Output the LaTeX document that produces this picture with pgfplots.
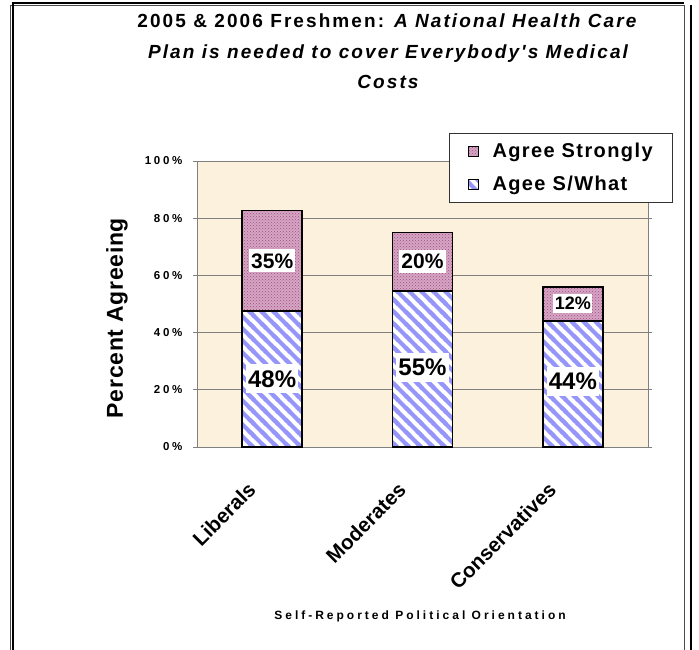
\documentclass[border=0pt]{standalone}
\usepackage{fontspec}
\setmainfont{Liberation Sans}[Ligatures=TeXOff]
\newfontfamily\fTitle{Liberation Sans}[LetterSpace=11, Ligatures=TeXOff]
\newfontfamily\fTick{Liberation Sans}[LetterSpace=24]
\newfontfamily\fXlab{Liberation Sans}[LetterSpace=25]
\newfontfamily\fLeg{Liberation Sans}[LetterSpace=7]
\newfontfamily\fYlab{Liberation Sans}[LetterSpace=3]
\usepackage{pgfplots}
\pgfplotsset{compat=1.18}
\usetikzlibrary{patterns}
\pgfdeclarepatternformonly{widenwlines}{\pgfqpoint{-1pt}{-1pt}}{\pgfqpoint{13pt}{13pt}}{\pgfqpoint{12pt}{12pt}}{%
  \pgfsetlinewidth{4.2pt}%
  \pgfpathmoveto{\pgfqpoint{-1pt}{13pt}}\pgfpathlineto{\pgfqpoint{13pt}{-1pt}}%
  \pgfpathmoveto{\pgfqpoint{-3pt}{3pt}}\pgfpathlineto{\pgfqpoint{3pt}{-3pt}}%
  \pgfpathmoveto{\pgfqpoint{9pt}{15pt}}\pgfpathlineto{\pgfqpoint{15pt}{9pt}}%
  \pgfusepath{stroke}}
\definecolor{bgbeige}{RGB}{251,241,220}
\definecolor{stripeblue}{RGB}{150,150,250}
\definecolor{pinkbase}{RGB}{214,165,196}
\definecolor{pinkdot}{RGB}{160,80,130}
\definecolor{gridgray}{RGB}{128,128,128}
\begin{document}
\begin{tikzpicture}[x=1pt,y=1pt]
\useasboundingbox (0,0) rectangle (699,-650);
\fill[white] (0,0) rectangle (699,-650);
% frame
\draw[line width=1pt, black!70] (10,-6) rectangle (684,-700);
\draw[line width=2pt] (13,-700) -- (13,-3.5) -- (684,-3.5);
\draw[line width=2pt] (691,-5) -- (691,-700);
% title
\node[anchor=base, font=\fTitle\bfseries\fontsize{19}{21}\selectfont] at (388,-28) {2005 \& 2006 Freshmen: \textit{A National Health Care}};
\node[anchor=base, font=\fTitle\bfseries\itshape\fontsize{19}{21}\selectfont] at (388,-59) {Plan is needed to cover Everybody's Medical};
\node[anchor=base, font=\fTitle\bfseries\itshape\fontsize{19}{21}\selectfont] at (388,-89) {Costs};
% axis titles
\node[rotate=90, font=\fYlab\bfseries\fontsize{23}{25}\selectfont] at (117,-318) {Percent Agreeing};
\node[font=\fXlab\bfseries\fontsize{12}{14}\selectfont] at (420,-616) {Self-Reported Political Orientation};
\begin{axis}[
  at={(197pt,-447pt)}, anchor=south west,
  scale only axis, width=451pt, height=286pt,
  xmin=0, xmax=3, ymin=0, ymax=100,
  ybar stacked, bar width=60pt,
  axis background/.style={fill=bgbeige},
  axis line style={gridgray, line width=1pt},
  ymajorgrids, grid style={gridgray, line width=1pt},
  ytick={0,20,40,60,80,100},
  yticklabels={0\%,20\%,40\%,60\%,80\%,100\%},
  yticklabel style={font=\fTick\bfseries\fontsize{11.5}{12}\selectfont, xshift=-7pt},
  xtick={0.5,1.5,2.5},
  xticklabels={Liberals,Moderates,Conservatives},
  x tick style={draw=none},
  minor xtick={0,1,2,3},
  minor tick length=9pt,
  major tick length=4pt,
  tick align=outside,
  tick style={gridgray, line width=1pt},
  xticklabel style={font=\bfseries\fontsize{20.5}{22}\selectfont, anchor=east, xshift=-18pt, yshift=-33pt, rotate=45},
  legend style={at={(0.559,1.098)}, anchor=north west, draw=black!80, line width=0.8pt,
    font=\fLeg\bfseries\fontsize{20}{22}\selectfont, row sep=13pt, inner xsep=18pt, inner ysep=8pt,
    /tikz/every odd column/.append style={column sep=12pt}},
  legend cell align=left,
  reverse legend,
  legend image code/.code={\draw[#1, line width=1pt] (0pt,-5pt) rectangle (10pt,5pt);},
  clip=false,
]
\addplot[draw=black, line width=1.5pt, fill=white,
  postaction={pattern=widenwlines, pattern color=stripeblue}]
  coordinates {(0.5,47.6) (1.5,54.6) (2.5,44.1)};
\addlegendentry{Agee S/What}
\addplot[draw=black, line width=1.5pt, fill=pinkbase,
  postaction={pattern=crosshatch dots, pattern color=pinkdot}]
  coordinates {(0.5,35.1) (1.5,20.4) (2.5,11.9)};
\addlegendentry{Agree Strongly}
\end{axis}
\begin{axis}[
  at={(197pt,-447pt)}, anchor=south west,
  scale only axis, width=451pt, height=286pt,
  xmin=0, xmax=3, ymin=0, ymax=100,
  hide axis, clip=false,
  nodes near coords align={center},
]
\addplot[draw=none, mark=none, nodes near coords, point meta=explicit symbolic,
  every node near coord/.append style={anchor=center, fill=white, text=black, inner xsep=2pt, inner ysep=6pt,
    font=\bfseries\fontsize{24}{26}\selectfont}]
  coordinates {(0.5,23.8)[48\%] (1.5,27.8)[55\%] (2.5,23)[44\%]};
\addplot[draw=none, mark=none, nodes near coords, point meta=explicit symbolic,
  every node near coord/.append style={anchor=center, fill=white, text=black, inner xsep=2pt, inner ysep=4pt,
    font=\bfseries\fontsize{21}{23}\selectfont}]
  coordinates {(0.5,65.1)[35\%] (1.5,64.8)[20\%]};
\addplot[draw=none, mark=none, nodes near coords, point meta=explicit symbolic,
  every node near coord/.append style={anchor=center, fill=white, text=black, inner xsep=1.5pt, inner ysep=3pt,
    font=\bfseries\fontsize{18}{20}\selectfont}]
  coordinates {(2.5,50.2)[12\%]};
\end{axis}
\end{tikzpicture}
\end{document}
